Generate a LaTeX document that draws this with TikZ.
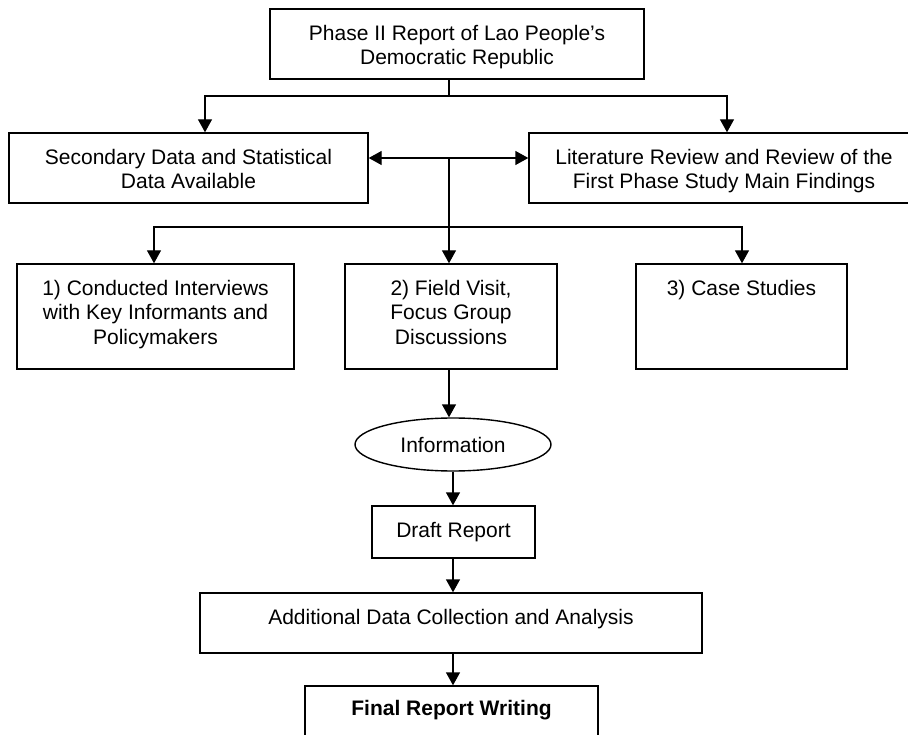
\documentclass[tikz,border=0pt]{standalone}
\usepackage{fontspec}
\setmainfont{Liberation Sans}
\usetikzlibrary{arrows.meta,shapes.geometric}
\newcommand{\boxtext}[4]{\parbox[c][#2pt][t]{#1pt}{\centering\vspace*{#3pt}#4}}
\begin{document}
\begin{tikzpicture}[x=1pt,y=-1pt,
  font=\fontsize{21}{24.5}\selectfont,
  bx/.style={draw, line width=1.4pt, inner sep=0pt},
  ln/.style={line width=1.4pt},
  arr/.style={line width=1.4pt, -{Triangle[length=13pt,width=14pt]}},
  darr/.style={line width=1.4pt, {Triangle[length=13pt,width=14pt]}-{Triangle[length=13pt,width=14pt]}}]
\useasboundingbox (0,0) rectangle (908,735);
\clip (0,0) rectangle (908,735);

\node[bx] (top) at (457,44) {\boxtext{374}{70}{16}{Phase II Report of Lao People’s\\Democratic Republic}};
\node[bx] (sec) at (188.5,168) {\boxtext{359}{70}{16}{Secondary Data and Statistical\\Data Available}};
\node[bx] (lit) at (724,168) {\boxtext{390}{70}{16}{Literature Review and Review of the\\First Phase Study Main Findings}};
\node[bx] (b1) at (155.5,316.5) {\boxtext{277}{105}{16}{1) Conducted Interviews\\with Key Informants and\\Policymakers}};
\node[bx] (b2) at (451,316.5) {\boxtext{212}{105}{16}{2) Field Visit,\\Focus Group\\Discussions}};
\node[bx] (b3) at (741.5,316.5) {\boxtext{211}{105}{16}{3) Case Studies}};
\node[draw, ellipse, line width=1.4pt, minimum width=196pt, minimum height=53pt, inner sep=0pt] (info) at (453,444.5) {Information};
\node[bx] (draft) at (453.5,532) {\boxtext{163}{52}{16}{Draft Report}};
\node[bx] (add) at (451,623) {\boxtext{502}{60}{16}{Additional Data Collection and Analysis}};
\node[bx] (fin) at (451.5,721) {\boxtext{293}{70}{14}{\bfseries Final Report Writing}};

\coordinate (j1) at (449,96);
\coordinate (l1) at (205,96);
\coordinate (r1) at (727,96);
\draw[ln] (top.south -| j1) -- (j1);
\draw[arr] (j1) -| (l1 |- sec.north);
\draw[arr] (j1) -| (r1 |- lit.north);

\coordinate (j2) at (449,158);
\draw[darr] (sec.east |- j2) -- (lit.west |- j2);

\coordinate (j3) at (449,227);
\coordinate (l2) at (154,227);
\coordinate (r2) at (742,227);
\draw[ln] (j2) -- (j3);
\draw[arr] (j3) -| (l2 |- b1.north);
\draw[arr] (j3) -| (r2 |- b3.north);
\draw[arr] (j3) -- (j3 |- b2.north);

\draw[arr] (b2.south -| j3) -- (info.north -| j3);
\draw[arr] (info.south) -- (draft.north -| info.south);
\draw[arr] (draft.south -| info.south) -- (add.north -| info.south);
\draw[arr] (add.south -| info.south) -- (fin.north -| info.south);
\end{tikzpicture}
\end{document}
